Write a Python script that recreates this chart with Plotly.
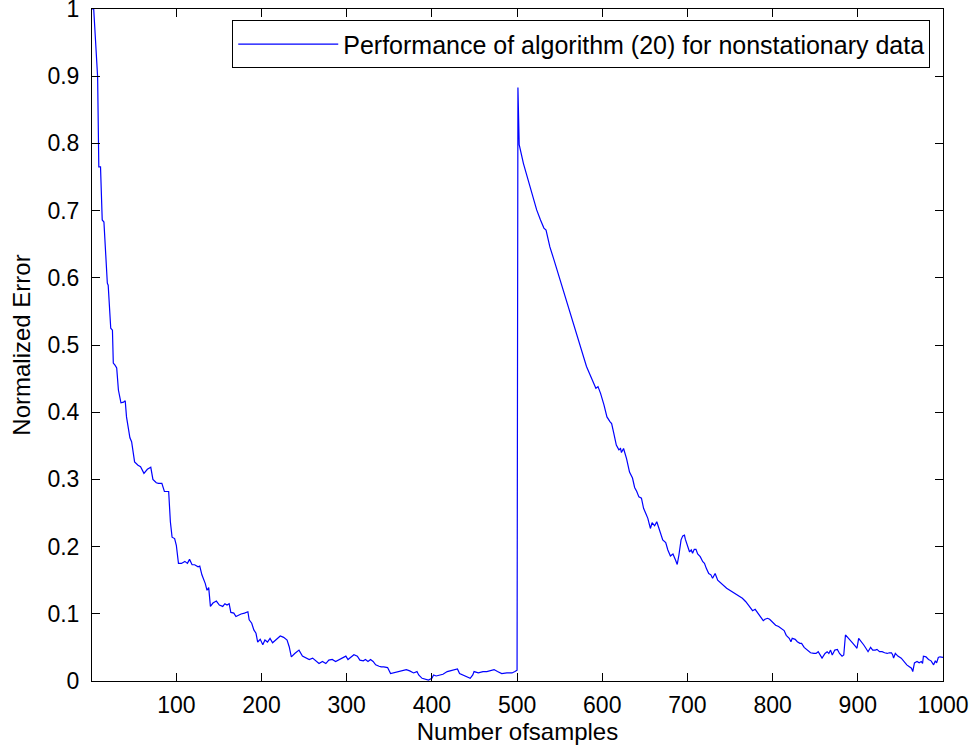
import plotly.graph_objects as go

# Curve vertices
samples = [1, 3, 7.6, 9, 11, 13, 15, 17, 19, 20, 22, 23, 25, 26, 28, 30, 32, 35, 38, 40,
           41.5, 43.5, 45.5, 47.5, 49.5, 51, 55, 58, 62, 66, 70, 72.5, 76.5, 79, 83, 86, 91, 92, 93, 95,
           98, 100, 102.5, 106, 110, 113, 115.5, 118.5, 121.5, 125.5, 127.5, 130, 134, 136, 138, 140, 143, 147, 150.5, 154.5,
           157, 159.5, 162, 164, 167.5, 170, 173, 176, 180, 184, 185.5, 188.5, 191, 193.5, 195.5, 198.5, 201.5, 204, 207, 210,
           213, 217, 222, 226, 230, 232.5, 235, 239, 244, 248, 252, 256, 260, 264, 267.5, 271.5, 275.5, 279, 283, 287,
           291, 295, 299, 301.5, 305, 308.5, 312.5, 315.5, 319.5, 322, 325, 328, 331, 334, 338, 340.5, 343.5, 348, 351.5, 355,
           360, 365, 370, 374, 378.5, 382.5, 384.5, 388.5, 392.5, 396, 400, 402, 405, 409, 413, 418, 423.5, 427.5, 430, 432.5,
           436.5, 440.5, 445, 448, 449.5, 454.5, 460, 464.5, 469, 473, 477, 482, 488, 494, 497.5, 500,
           501, 502.5, 507.5, 513, 518.5, 523, 527.5, 531.5, 534, 538.5, 543.5, 550.5, 556, 561, 573.5, 577.5, 581.5, 584.5, 587.5, 590,
           592.5, 595, 598, 602, 605.5, 609, 611, 613.5, 616.5, 619.5, 621.5, 622.5, 625, 628.5, 632, 635.5, 638, 640.5, 643, 646,
           648.5, 651, 653.5, 655.5, 656.5, 658.5, 661.5, 664, 667.5, 671, 674.5, 677, 680, 683, 686, 688, 690, 692.5, 694.5, 696.5,
           697.5, 700.5, 702.5, 704.5, 706, 708, 710, 712, 715, 718, 720, 722, 725, 727.5, 729.5, 732.5, 735.5, 746, 753, 761,
           764.5, 768.5, 772.5, 776.5, 779.5, 782, 786, 789, 791, 794, 796.5, 800, 803.5, 807, 810.5, 813.5, 816, 819.5, 821.5, 823,
           826.5, 829, 832, 834, 837, 840.5, 844.5, 848.5, 851, 853.5, 856.5, 858, 861.5, 864, 866, 868, 870, 873, 876, 878.5,
           881.5, 883.5, 885.5, 889.5, 893.5, 897.5, 899, 901, 904.5, 907, 909.5, 912, 915, 917.5, 920.5, 922.5, 925.5, 928.5, 931.5, 934.5,
           937, 939.5, 941, 942, 944, 947, 951, 955, 957.5, 960.5, 963, 964.5, 966.5, 969.5, 972, 974.5, 976, 977, 980, 983,
           986, 989, 991, 992.5, 994.5, 996.5, 1000]

error = [1.0, 1.0, 0.899, 0.765, 0.765, 0.686, 0.683, 0.635, 0.592, 0.589, 0.533, 0.525, 0.522, 0.473, 0.470, 0.466, 0.433, 0.414, 0.415, 0.417,
         0.393, 0.378, 0.362, 0.356, 0.341, 0.326, 0.321, 0.319, 0.309, 0.315, 0.318, 0.300, 0.295, 0.294, 0.294, 0.282, 0.282, 0.254, 0.237, 0.214,
         0.212, 0.202, 0.175, 0.175, 0.178, 0.175, 0.181, 0.173, 0.173, 0.170, 0.171, 0.158, 0.145, 0.135, 0.139, 0.111, 0.116, 0.119, 0.113, 0.111,
         0.115, 0.113, 0.115, 0.102, 0.101, 0.096, 0.098, 0.0997, 0.101, 0.103, 0.091, 0.086, 0.076, 0.071, 0.058, 0.062, 0.054, 0.061, 0.058, 0.0635,
         0.057, 0.061, 0.067, 0.065, 0.061, 0.051, 0.036, 0.041, 0.046, 0.037, 0.034, 0.032, 0.034, 0.029, 0.026, 0.029, 0.026, 0.031, 0.032, 0.029,
         0.032, 0.035, 0.037, 0.032, 0.036, 0.039, 0.037, 0.031, 0.030, 0.032, 0.029, 0.032, 0.029, 0.024, 0.022, 0.021, 0.021, 0.020, 0.011, 0.012,
         0.014, 0.015, 0.017, 0.015, 0.012, 0.014, 0.009, 0.004, 0.0025, 0.0015, 0.004, 0.009, 0.0075, 0.009, 0.010, 0.014, 0.016, 0.017, 0.018, 0.011,
         0.009, 0.0065, 0.004, 0.009, 0.014, 0.012, 0.014, 0.014, 0.015, 0.017, 0.014, 0.011, 0.012, 0.012, 0.014, 0.016,
         0.883, 0.798, 0.770, 0.7455, 0.721, 0.701, 0.686, 0.674, 0.671, 0.646, 0.626, 0.597, 0.572, 0.552, 0.500, 0.483, 0.468, 0.459, 0.450, 0.443,
         0.4355, 0.438, 0.428, 0.411, 0.393, 0.386, 0.383, 0.369, 0.351, 0.344, 0.346, 0.340, 0.346, 0.331, 0.311, 0.302, 0.288, 0.282, 0.274, 0.272,
         0.257, 0.2495, 0.242, 0.232, 0.227, 0.2355, 0.231, 0.237, 0.225, 0.210, 0.206, 0.195, 0.186, 0.189, 0.180, 0.1735, 0.1875, 0.210, 0.216, 0.217,
         0.211, 0.200, 0.192, 0.195, 0.190, 0.196, 0.196, 0.189, 0.185, 0.1775, 0.175, 0.168, 0.160, 0.158, 0.153, 0.160, 0.150, 0.138, 0.132, 0.1255,
         0.123, 0.118, 0.1106, 0.1046, 0.1067, 0.1017, 0.0948, 0.0897, 0.0918, 0.0933, 0.0918, 0.088, 0.083, 0.081, 0.078, 0.075, 0.068, 0.0635, 0.0585, 0.0635,
         0.062, 0.0585, 0.056, 0.056, 0.050, 0.046, 0.042, 0.041, 0.041, 0.0436, 0.037, 0.034, 0.041, 0.0436, 0.041, 0.046, 0.0387, 0.046, 0.047, 0.041,
         0.037, 0.0387, 0.0685, 0.0635, 0.057, 0.051, 0.0487, 0.0635, 0.0585, 0.0536, 0.0487, 0.0436, 0.050, 0.046, 0.046, 0.047, 0.0436, 0.0436, 0.042, 0.041,
         0.042, 0.042, 0.0387, 0.034, 0.041, 0.037, 0.034, 0.027, 0.024, 0.0213, 0.019, 0.014, 0.027, 0.029, 0.027, 0.029, 0.026, 0.037, 0.036, 0.032,
         0.030, 0.024, 0.030, 0.027, 0.035, 0.036, 0.035]

x_ticks = [100, 200, 300, 400, 500, 600, 700, 800, 900, 1000]
y_ticks = [0, 0.1, 0.2, 0.3, 0.4, 0.5, 0.6, 0.7, 0.8, 0.9, 1]
y_tick_labels = ["0", "0.1", "0.2", "0.3", "0.4", "0.5", "0.6", "0.7", "0.8", "0.9", "1"]

series_name = "Performance of algorithm (20) for nonstationary data"

FONT = "Liberation Sans, Arial, Helvetica, sans-serif"

fig = go.Figure()
fig.add_trace(go.Scatter(x=samples, y=error, mode="lines", name=series_name,
                         line=dict(color="#0000FF", width=1.2)))

axis_common = dict(showline=True, linecolor="black", linewidth=1, mirror="ticks",
                   ticks="inside", ticklen=8, tickcolor="black", tickwidth=1,
                   showgrid=False, zeroline=False, automargin=False,
                   ticklabeloverflow="allow",
                   tickfont=dict(family=FONT, size=23, color="black"))

fig.update_layout(
    template="none",
    width=975, height=755,
    margin=dict(l=92, r=32, t=9, b=74, pad=0),
    paper_bgcolor="white", plot_bgcolor="white",
    font=dict(family=FONT, size=24, color="black"),
    showlegend=True,
    legend=dict(x=0.985, y=0.983, xanchor="right", yanchor="top",
                bordercolor="black", borderwidth=1, bgcolor="white",
                itemwidth=100, font=dict(family=FONT, size=25, color="black")),
    xaxis=dict(range=[1, 1000], tickvals=x_ticks, ticklabelstandoff=3,
               title=dict(text="Number ofsamples", standoff=6,
                          font=dict(family=FONT, size=24, color="black")),
               **axis_common),
    yaxis=dict(range=[0, 1], tickvals=y_ticks, ticktext=y_tick_labels,
               ticklabelstandoff=7,
               title=dict(text="Normalized Error", standoff=10,
                          font=dict(family=FONT, size=24, color="black")),
               **axis_common),
)

fig.write_html("out.html", config={"displayModeBar": False},
               post_script="document.body.style.margin='0';document.body.style.padding='0';")
